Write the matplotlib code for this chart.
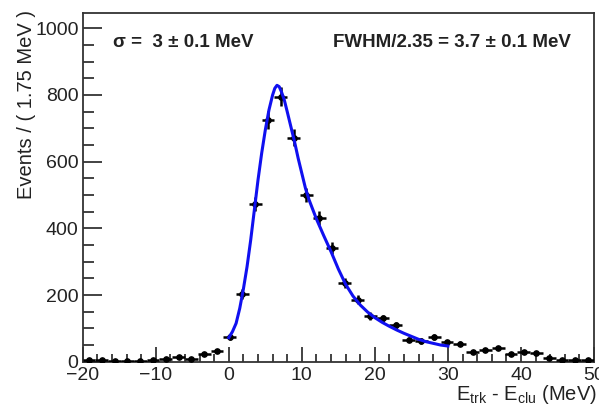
import numpy as np
import matplotlib
matplotlib.use("Agg")
import matplotlib.pyplot as plt
from matplotlib.ticker import MultipleLocator

plt.rcParams['font.family'] = ['Liberation Sans', 'DejaVu Sans']
plt.rcParams['mathtext.fontset'] = 'custom'
plt.rcParams['mathtext.rm'] = 'Liberation Sans'
plt.rcParams['mathtext.it'] = 'Liberation Sans:italic'
plt.rcParams['mathtext.bf'] = 'Liberation Sans:bold'

# Histogram: 40 bins of 1.75 MeV from -20 to 50
bin_lo = -20.0
bin_width = 1.75
counts = [4, 4, 3, 3, 3, 4, 7, 13, 7, 22, 33,
          73, 203, 473, 725, 795, 672, 500, 430, 340, 237, 186, 136,
          130, 110, 66, 62, 75, 58, 54, 30, 36, 42, 24, 30, 27, 12, 5, 5, 6]

# Fit curve
fit_x = [0, 0.5, 1, 1.5, 2, 2.5, 3, 3.5, 4, 4.5, 5, 5.5, 6, 6.3, 6.6, 6.9, 7.2,
         7.6, 8, 8.5, 9, 9.5, 10, 10.5, 11, 12, 13, 14, 15, 16, 17, 18, 19, 20,
         21, 22, 23, 24, 25, 26, 27, 28, 29, 30]
fit_y = [72, 90, 115, 160, 218, 285, 365, 455, 545, 625, 695, 755, 800, 820, 829,
         825, 810, 785, 750, 705, 660, 610, 565, 520, 485, 428, 378, 330, 278,
         232, 197, 170, 149, 132, 118, 106, 95, 85, 76, 67, 60, 55, 50, 47]

sigma_text = "\u03c3 =  3 \u00b1 0.1 MeV"
fwhm_text = "FWHM/2.35 = 3.7 \u00b1 0.1 MeV"
x_title = r"E$_{\rm trk}$ - E$_{\rm clu}$ (MeV)"
y_title = "Events / ( 1.75 MeV )"
x_ticks = [-20, -10, 0, 10, 20, 30, 40, 50]
x_tick_labels = ['\u221220', '\u221210', '0', '10', '20', '30', '40', '50']

counts = np.array(counts, dtype=float)
centers = bin_lo + bin_width * (np.arange(len(counts)) + 0.5)
errs = np.sqrt(counts)

fig = plt.figure(figsize=(5.99, 4.08), dpi=100)
ax = fig.add_axes([82.7/599, 1 - 361.7/408, (594 - 82.7)/599, (361.7 - 13.3)/408])

ax.errorbar(centers, counts, yerr=errs, xerr=bin_width/2, fmt='o', color='black',
            ms=3.8, elinewidth=1.8, capsize=0, zorder=3)
ax.plot(fit_x, fit_y, color='#1010f0', lw=2.2, zorder=4)

ax.set_xlim(-20, 50)
ax.set_ylim(0, 1045)
ax.xaxis.set_minor_locator(MultipleLocator(2))
ax.yaxis.set_major_locator(MultipleLocator(200))
ax.yaxis.set_minor_locator(MultipleLocator(50))
ax.set_xticks(x_ticks)
ax.set_xticklabels(x_tick_labels)
ax.tick_params(which='both', direction='in', top=False, right=False, width=1.2,
               labelsize=14, color='#222222', labelcolor='#222222')
ax.tick_params(axis='x', which='major', length=11, pad=4)
ax.tick_params(axis='x', which='minor', length=6)
ax.tick_params(axis='y', which='major', length=14, pad=3)
ax.tick_params(axis='y', which='minor', length=8)
for s in ax.spines.values():
    s.set_linewidth(1.3)
    s.set_color('#333333')

ax.text(0.06, 0.915, sigma_text, transform=ax.transAxes, fontsize=13.5,
        fontweight='bold', color='#222222', ha='left', va='center')
ax.text(0.955, 0.915, fwhm_text, transform=ax.transAxes, fontsize=13.5,
        fontweight='bold', color='#222222', ha='right', va='center')

fig.text(597/599, 1 - 400/408, x_title, fontsize=14.5, color='#222222',
         ha='right', va='baseline')
fig.text(17/599, 1 - 10/408, y_title, fontsize=14.5, color='#222222',
         rotation=90, ha='left', va='top')

fig.savefig("out.png", dpi=100)
